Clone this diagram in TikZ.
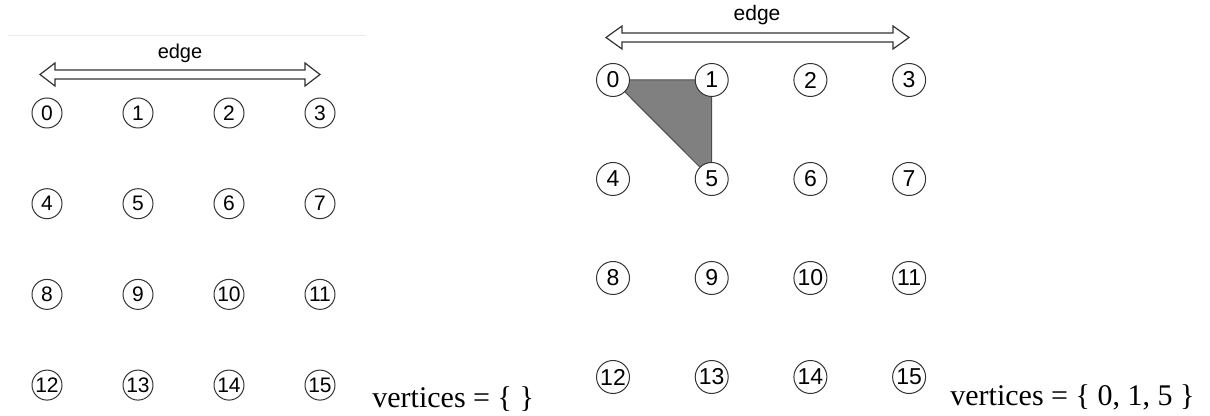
\documentclass[tikz,border=0pt]{standalone}
\usepackage{fontspec}
\setmainfont{Liberation Sans}
\newfontfamily\serifa{Liberation Serif}
\usetikzlibrary{backgrounds}

\begin{document}
\begin{tikzpicture}[x=0.5pt, y=-0.5pt,
    vertice/.style={circle, draw=black!80, line width=0.5pt, fill=white,
        inner sep=0pt, minimum size=15pt, font=\fontsize{10.5}{12}\selectfont},
    verticegrande/.style={vertice, minimum size=16.5pt, font=\fontsize{11.5}{13}\selectfont},
    flecha/.style={draw=black!80, line width=0.6pt},
    rotulo/.style={font=\fontsize{10}{12}\selectfont},
    conjunto/.style={anchor=base west, inner sep=0pt, font=\serifa\fontsize{15}{18}\selectfont}]

    \useasboundingbox (0,0) rectangle (1210,416);

    % malla de vertices: #1 = prefijo, #2 = desplazamiento, #3 = paso x, #4 = paso y, #5 = estilo
    \newcommand{\malla}[5]{%
        \begin{scope}[shift={#2}, name prefix=#1-]
            \foreach \n in {0,...,15} {
                \pgfmathtruncatemacro{\col}{mod(\n,4)}
                \pgfmathtruncatemacro{\fila}{div(\n,4)}
                \node[#5] (\n) at ({\col*#3}, {\fila*#4}) {\n};
            }
        \end{scope}}
    % flecha doble hueca: #1 = x izquierda, #2 = x derecha, #3 = y, #4 = largo de la punta
    \newcommand{\flechadoble}[4]{%
        \draw[flecha] (#1,#3) -- ({#1+#4},{#3-11.5}) -- ({#1+#4},{#3-4.5})
            -- ({#2-#4},{#3-4.5}) -- ({#2-#4},{#3-11.5}) -- (#2,#3)
            -- ({#2-#4},{#3+11.5}) -- ({#2-#4},{#3+4.5}) -- ({#1+#4},{#3+4.5})
            -- ({#1+#4},{#3+11.5}) -- cycle;}

    % izquierda: sin vertices
    \draw[black!8, line width=0.5pt] (8,36) -- (366,36);
    \node[rotulo] (aristaA) at (180,53) {edge};
    \flechadoble{40}{320}{74.5}{15}
    \malla{a}{(47,113)}{91}{90.7}{vertice}
    \node[conjunto] (conjA) at (372,408) {vertices = \{ \}};

    % derecha: triangulo 0, 1, 5
    \node[rotulo, font=\fontsize{10.5}{12}\selectfont] (aristaB) at (757,15) {edge};
    \flechadoble{606}{909}{37.5}{16}
    \malla{b}{(613,80)}{98.7}{99}{verticegrande}
    \begin{scope}[on background layer]
        \filldraw[fill=black!50, draw=black!70, line width=0.5pt]
            (b-0.center) -- (b-1.center) -- (b-5.center) -- cycle;
    \end{scope}
    \node[conjunto] (conjB) at (950,406) {vertices = \{ 0, 1, 5 \}};

\end{tikzpicture}
\end{document}
